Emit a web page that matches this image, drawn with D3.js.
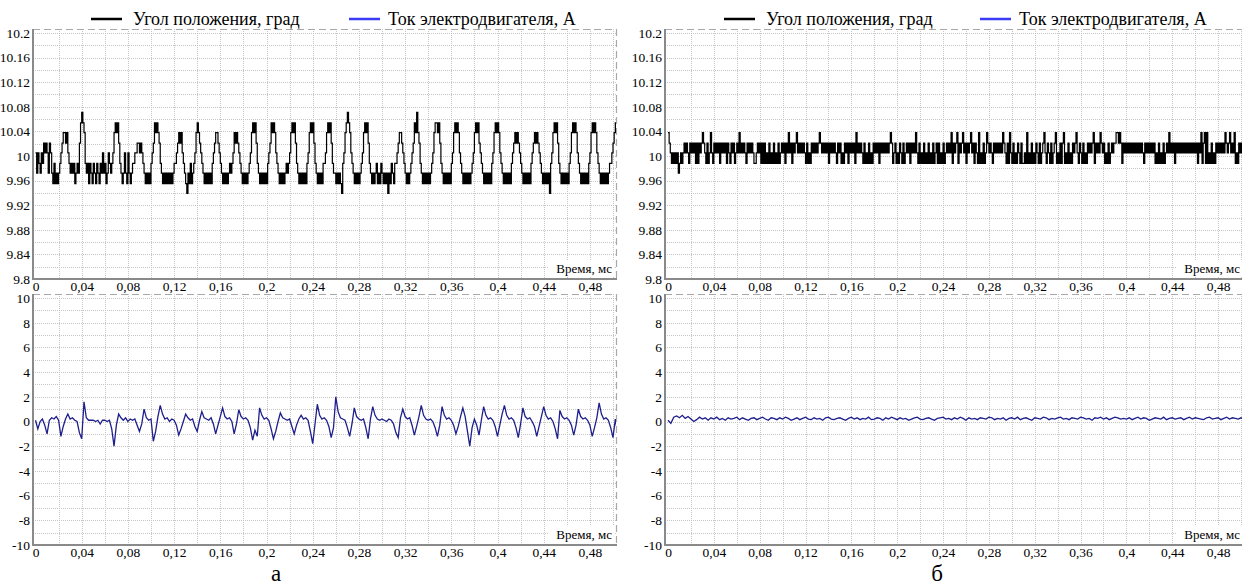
<!DOCTYPE html>
<html>
<head>
<meta charset="utf-8">
<script src="https://cdn.jsdelivr.net/npm/d3@7"></script>
<style>
  body { margin: 0; background: #fff; }
  svg { display: block; }
  svg text { font-family: "Liberation Serif", "Times New Roman", serif; }
</style>
</head>
<body>
<svg id="chart" width="1242" height="587"></svg>
<script>
// ---- data ----
const timeTicks = [0, 0.04, 0.08, 0.12, 0.16, 0.2, 0.24, 0.28, 0.32, 0.36, 0.4, 0.44, 0.48]
const timeTickLabels = ["0", "0,04", "0,08", "0,12", "0,16", "0,2", "0,24", "0,28", "0,32", "0,36", "0,4", "0,44", "0,48"]
const angleTicks = [9.8, 9.84, 9.88, 9.92, 9.96, 10, 10.04, 10.08, 10.12, 10.16, 10.2]
const angleTickLabels = ["9.8", "9.84", "9.88", "9.92", "9.96", "10", "10.04", "10.08", "10.12", "10.16", "10.2"]
const currentTicks = [-10, -8, -6, -4, -2, 0, 2, 4, 6, 8, 10]
const currentTickLabels = ["-10", "-8", "-6", "-4", "-2", "0", "2", "4", "6", "8", "10"]
const legendNames = ["Угол положения, град", "Ток электродвигателя, А"]
const captions = ["а", "б"]

// the angle sensor is quantised: samples below are indices into these levels (deg)
const angleLevels = [9.939, 9.955, 9.972, 9.988, 10.005, 10.021, 10.038, 10.054, 10.071]
const angleStepMs = 0.001

// (а) angle, one sample per 0.001 ms
const angleA = [
  4,2,4,3,2,4,3, 5,4,5,4,2,5,4, 2,1,3,1,2,1,2,3, 4,5,6,6,5,6,4,3,2, 3,2,3,1,2,3,2,
  5,7,8,7,6,3, 2,3,1,3,2,1,3,2,1,3,2,1,3,2,4,2,3,1,2,4,3,2, 3,4,6,7,6,7,5,3,
  2,1,2,4,2,1,4,2,1,2,3,3, 4,4,5,5,4,5,4,3, 2,1,2,1,2,1,3, 4,5,7,6,7,6,5,3,2,
  1,2,1,2,1,2,1,2,1,2,3, 3,4,5,6,5,6,4,3,2, 1,0,2,1,3,1,2,3, 4,6,7,6,5,4,3,2,
  1,2,1,2,1,2,1,3, 4,5,6,6,5,4,3,2, 1,2,1,2,1,2,3,2, 3,4,6,5,6,5,4,3,2,
  1,2,1,2,1,2,3, 4,6,7,6,7,5,3,2, 1,2,1,2,1,2,1,3, 4,5,7,6,7,6,4,3,2,
  1,2,1,2,1,2,3,2, 3,4,6,7,6,7,5,3,2, 1,2,1,2,1,2,1,3, 4,6,7,6,7,5,3,2,
  1,2,1,2,1,3,3, 4,6,7,6,7,5,3,2, 2,1,2,1,2,1,0,3, 4,6,7,8,7,6,4,3,2,
  1,2,1,2,1,2,3, 4,6,7,6,7,5,3,2, 1,2,1,2,3,1,2,1,3,2,1,2,1,2,0,2,1,3,2,1,3,
  3,4,5,6,6,5,4,3, 2,1,2,1,2,3, 4,5,7,6,8,6,5,3,2, 1,2,1,2,1,2,1,2,3,
  4,6,7,7,6,7,5,3,2, 1,2,1,2,1,2,1,3, 4,6,7,6,7,6,4,3,2, 1,2,1,2,1,2,1,2,3,
  4,6,7,6,7,5,4,3,2, 1,2,1,2,1,2,1,3, 4,6,7,6,7,6,4,3,2, 1,2,1,2,1,2,1,3,
  4,5,6,5,6,5,4,3,2, 1,2,1,2,1,2,1,3, 4,5,6,5,6,5,4,3,2, 1,2,1,2,1,2,0,3,
  4,6,7,6,7,5,3,2, 1,2,1,2,1,2,1,3, 4,6,7,6,7,6,4,3,2, 1,2,1,2,1,2,1,3,
  4,6,7,6,7,6,4,3,2, 1,2,1,2,1,2,1,2,3,3, 4,5,6,7,6,7,7
]

// (б) angle, one sample per 0.001 ms
const angleB = [
  6,5,4,3,4,3,4,3,4,2, 3,4,3,4,5,4,5,4,3,5, 4,5,4,5,3,5,3,5,4,5, 6,5,4,3,5,3,4,6,4,3,
  5,4,5,4,5,3,5,4,5,4, 5,3,5,4,3,5,4,5,3,4, 5,4,6,4,5,4,5,4,3,5, 4,5,4,5,4,3,3,4,5,4,
  5,3,5,3,5,3,4,3,5,3, 4,3,5,3,4,3,5,3,4,5, 4,5,3,5,4,6,4,5,3,5, 4,5,6,4,5,4,5,4,5,4,
  3,5,3,4,3,5,4,5,4,5, 4,5,6,5,4,5,4,5,4,5, 3,5,4,5,4,5,4,3,5,4, 5,3,4,3,5,4,5,3,5,4,
  5,4,5,3,6,4,5,4,5,4, 3,5,3,4,3,5,3,4,3,5, 4,5,4,5,3,5,4,5,4,5, 4,5,4,5,6,5,3,4,5,3,
  4,3,5,4,3,5,3,4,5,4, 5,3,5,4,5,4,6,4,3,5, 3,4,3,5,3,4,3,5,3,4, 3,5,3,4,5,3,5,3,4,3,
  5,3,4,5,4,5,4,6,3,5, 4,5,6,3,5,4,5,6,4,5, 3,5,4,5,6,4,5,3,5,4, 3,6,3,4,3,5,3,4,6,5,
  4,5,4,3,5,4,5,4,5,4, 5,4,6,5,4,3,5,3,6,4, 3,5,3,4,3,5,4,3,5,3, 3,4,3,6,3,4,3,5,3,4,
  3,5,4,3,5,3,4,5,6,4, 3,5,4,3,5,3,4,5,6,3, 4,3,5,3,5,6,3,4,3,5, 3,4,3,5,4,5,6,4,3,5,
  4,3,5,3,4,3,5,4,5,4, 5,6,3,5,4,5,4,6,5,4, 5,3,4,3,5,3,4,5,4,5, 5,6,6,5,6,5,3,5,4,5,
  4,5,4,5,4,5,4,5,4,5, 4,5,4,5,4,3,5,4,5,4, 5,4,5,4,5,3,4,3,5,3, 4,3,5,3,4,5,4,6,4,5,
  4,5,3,5,4,5,4,5,4,5, 4,5,4,5,4,5,4,5,4,5, 4,5,3,5,4,6,3,5,6,3, 6,3,4,3,5,3,4,3,5,4,
  5,4,5,4,5,4,6,5,4,5, 6,4,5,4,6,3,4,3,5,4, 5,4,5,4,5,4
]

// (а) motor current, A, one sample per 0.002 ms
const currentStepA = 0.002
const currentA = [
  0.1, -0.6, 0.0, 0.2, -0.3, -1.0, 0.1, 0.3, 0.2, 0.4, 0.1, -1.2, -0.4, 0.2, 0.6, 0.2, 0.3, 0.1, 0.0, -0.9,
  -1.4, 1.6, 0.3, 0.1, 0.1, 0.1, 0.0, 0.1, -0.2, 0.1, 0.1, 0.0, 0.1, -0.6, -2.0, -0.3, 0.6, 0.3, 0.1, 0.3,
  0.0, 0.2, 0.1, 0.2, -0.3, -0.8, -0.2, 1.0, 0.3, 0.1, 0.2, -1.6, -0.8, 0.4, 1.3, 0.6, 0.2, 0.3, 0.0, 0.2,
  0.1, -0.3, -1.1, -0.6, 0.0, 0.6, 0.3, 0.1, 0.2, -0.4, -0.8, 0.1, 0.8, 0.3, 0.2, 0.1, 0.3, -0.2, -1.0, -0.3,
  0.4, 1.1, 0.4, 0.2, 0.3, 0.0, -1.0, -0.2, 0.95, 0.4, 0.2, 0.3, 0.1, -0.5, -1.5, -0.7, -1.2, 1.1, 0.5, 0.2,
  0.3, 0.1, -0.6, -1.4, -0.8, 0.0, 0.7, 0.3, 0.2, 0.1, 0.2, -0.4, -1.0, -0.3, 0.2, 0.5, 0.2, 0.3, 0.1, -0.8,
  -1.8, -0.2, 1.4, 0.5, 0.2, 0.3, 0.1, -0.4, -1.3, -0.5, 2.0, 0.8, 0.3, 0.2, 0.1, -0.5, -1.2, -0.2, 1.1, 0.4,
  0.2, 0.1, 0.2, -0.5, -1.4, 0.2, 1.2, 0.5, 0.2, 0.1, 0.2, 0.1, 0.0, 0.2, 0.1, -0.2, -0.9, -1.3, 0.3, 1.0,
  0.4, 0.2, 0.3, -0.3, -1.1, -0.4, 0.4, 1.3, 0.5, 0.2, 0.1, 0.2, 0.0, -0.5, -1.2, -0.3, 1.2, 0.5, 0.2, 0.3,
  0.1, -0.3, -1.0, -0.4, 0.4, 1.1, 0.4, -0.8, -2.0, -0.5, 0.2, -0.3, -1.1, 0.1, 1.2, 0.5, 0.2, 0.3, 0.1, -0.4,
  -1.2, -0.3, 0.6, 1.3, 0.5, 0.2, 0.3, 0.1, -0.5, -1.3, -0.2, 1.1, 0.4, 0.2, 0.3, 0.0, -0.4, -1.2, -0.4, 0.4,
  1.2, 0.5, 0.2, 0.3, 0.0, -0.6, -1.4, 0.9, 0.4, 0.2, 0.3, 0.1, -0.3, -1.1, -0.3, 1.0, 0.4, 0.2, 0.3, 0.1,
  -0.3, -1.2, -0.5, 0.3, 1.5, 0.6, 0.2, 0.3, 0.1, -0.5, -1.3, 0.2, -0.9
]

// (б) motor current, A, one sample per 0.0025 ms
const currentStepB = 0.0025
const currentB = [
  0.1, -0.15, 0.35, 0.45, 0.3, 0.5, 0.25, 0.4, 0.2, 0.0, 0.15, 0.35, 0.2, 0.3, 0.1, 0.3, 0.2, 0.35, 0.15, 0.25,
  0.1, 0.3, 0.2, 0.25, 0.35, 0.15, 0.3, 0.2, 0.1, 0.25, 0.3, 0.15, 0.25, 0.35, 0.2, 0.1, 0.3, 0.25, 0.15, 0.3,
  0.2, 0.35, 0.25, 0.1, 0.2, 0.3, 0.15, 0.25, 0.35, 0.2, 0.15, 0.3, 0.2, 0.25, 0.1, 0.3, 0.35, 0.2, 0.15, 0.25,
  0.3, 0.2, 0.1, 0.25, 0.35, 0.2, 0.3, 0.15, 0.25, 0.2, 0.35, 0.15, 0.2, 0.3, 0.25, 0.1, 0.3, 0.2, 0.35, 0.25,
  0.15, 0.3, 0.2, 0.25, 0.1, 0.2, 0.3, 0.35, 0.2, 0.15, 0.25, 0.3, 0.2, 0.1, 0.25, 0.3, 0.35, 0.2, 0.25, 0.15,
  0.3, 0.2, 0.35, 0.25, 0.1, 0.3, 0.2, 0.25, 0.15, 0.3, 0.25, 0.2, 0.35, 0.3, 0.15, 0.25, 0.2, 0.3, 0.1, 0.25,
  0.3, 0.2, 0.35, 0.15, 0.25, 0.3, 0.2, 0.1, 0.3, 0.25, 0.2, 0.35, 0.3, 0.15, 0.25, 0.2, 0.3, 0.35, 0.2, 0.25,
  0.15, 0.3, 0.25, 0.2, 0.35, 0.3, 0.2, 0.25, 0.1, 0.3, 0.25, 0.35, 0.2, 0.3, 0.15, 0.25, 0.35, 0.3, 0.2, 0.25,
  0.2, 0.3, 0.15, 0.25, 0.35, 0.2, 0.3, 0.25, 0.1, 0.2, 0.3, 0.25, 0.2, 0.35, 0.15, 0.25, 0.3, 0.2, 0.25, 0.3,
  0.15, 0.25, 0.35, 0.2, 0.3, 0.25, 0.2, 0.15, 0.3, 0.35, 0.2, 0.25, 0.3, 0.15, 0.25, 0.35, 0.2, 0.3, 0.25, 0.2,
  0.3, 0.2, 0.25
]

// ---- drawing ----
const svg = d3.select("#chart")
const serif = "'Liberation Serif', 'Times New Roman', serif"
const gridColor = "#c6c6c6"
const axisColor = "#8a8a8a"
const frameColor = "#a8a8a8"
const blackLine = "#000"
const blueLine = "#1e1e8c"
const legendBlue = "#3b3bf5"

function drawPanel(cfg) {
  const {id, x, y, axisX, frameTop, frameRight, axisY, yTicks, yLabels, yGrid, series, color, curve, labelRight} = cfg
  const g = svg.append("g").attr("class", id)

  svg.append("clipPath").attr("id", "clip-" + id)
    .append("rect")
    .attr("x", axisX).attr("y", frameTop)
    .attr("width", frameRight - axisX).attr("height", axisY - frameTop)

  const grid = g.append("g").attr("class", "grid")
    .attr("stroke", gridColor).attr("stroke-dasharray", "1,1").attr("shape-rendering", "crispEdges")
  grid.selectAll("line.v").data(d3.range(1, 26).map(i => i * 0.02)).join("line")
    .attr("class", "v")
    .attr("x1", d => Math.round(x(d)) + 0.5).attr("x2", d => Math.round(x(d)) + 0.5)
    .attr("y1", frameTop).attr("y2", axisY)
  grid.selectAll("line.h").data(yGrid).join("line")
    .attr("class", "h")
    .attr("x1", axisX).attr("x2", frameRight)
    .attr("y1", d => Math.round(y(d)) + 0.5).attr("y2", d => Math.round(y(d)) + 0.5)

  // dashed top / right frame
  g.append("path")
    .attr("d", `M${axisX},${frameTop + 0.5}H${frameRight + 0.5}V${axisY}`)
    .attr("fill", "none").attr("stroke", frameColor)
    .attr("stroke-dasharray", "7,4").attr("stroke-width", 1.2)

  // "Время, мс" label on a white patch
  const tw = 62
  g.append("rect")
    .attr("x", labelRight - tw - 2).attr("y", axisY - 19)
    .attr("width", tw + 4).attr("height", 17).attr("fill", "#fff")
  g.append("text")
    .attr("x", labelRight).attr("y", axisY - 6)
    .attr("text-anchor", "end")
    .style("font-family", serif).style("font-size", "13px")
    .text("Время, мс")

  // series
  const line = d3.line()
    .x(d => x(d[0])).y(d => y(d[1]))
    .curve(curve)
  g.append("path")
    .datum(series)
    .attr("clip-path", `url(#clip-${id})`)
    .attr("d", line)
    .attr("fill", "none").attr("stroke", color)
    .attr("stroke-width", cfg.width)

  // axes
  const yAxis = g.append("g")
    .attr("transform", `translate(${axisX - 1},0)`)
    .call(d3.axisLeft(y).tickValues(yTicks).tickFormat((d, i) => yLabels[i]).tickSize(0).tickPadding(2))
  yAxis.select(".domain").remove()
  yAxis.selectAll("text").style("font-family", serif).style("font-size", "13.5px").attr("fill", "#000")

  const xAxis = g.append("g")
    .attr("transform", `translate(0,${axisY})`)
    .call(d3.axisBottom(x).tickValues(timeTicks).tickFormat((d, i) => timeTickLabels[i]).tickSize(0).tickPadding(2))
  xAxis.select(".domain").remove()
  xAxis.selectAll("text").style("font-family", serif).style("font-size", "13.5px").attr("fill", "#000")

  // solid left / bottom axis lines
  g.append("path")
    .attr("d", `M${axisX},${frameTop}V${axisY}H${frameRight + 1}`)
    .attr("fill", "none").attr("stroke", axisColor).attr("stroke-width", 2)
}

const angleGrid = d3.range(0, 21).map(i => 9.8 + i * 0.02)
const currentGrid = d3.range(-10, 11)

const columns = [
  {key: "a", x0: 35.5, k: 1155, axisX: 33, frameRight: 616, labelRight: 612, angle: angleA, current: currentA, currentStep: currentStepA, caption: 0, captionX: 276},
  {key: "b", x0: 668, k: 1146, axisX: 665, frameRight: 1248, labelRight: 1240, angle: angleB, current: currentB, currentStep: currentStepB, caption: 1, captionX: 937}
]

columns.forEach(col => {
  const x = d3.scaleLinear()
    .domain([0, (col.frameRight - col.x0) / col.k])
    .range([col.x0, col.frameRight])

  const yAngle = d3.scaleLinear().domain([9.8, 10.2]).range([279, 33])
  drawPanel({
    id: "angle-" + col.key, x, y: yAngle,
    axisX: col.axisX, frameTop: 29, frameRight: col.frameRight, axisY: 279, labelRight: col.labelRight,
    yTicks: angleTicks, yLabels: angleTickLabels, yGrid: angleGrid,
    series: col.angle.map((lv, i) => [i * angleStepMs, angleLevels[lv]]),
    color: blackLine, width: 1.2, curve: d3.curveStepAfter
  })

  const yCurrent = d3.scaleLinear().domain([-10, 10]).range([545, 298])
  drawPanel({
    id: "current-" + col.key, x, y: yCurrent,
    axisX: col.axisX, frameTop: 294, frameRight: col.frameRight, axisY: 545, labelRight: col.labelRight,
    yTicks: currentTicks, yLabels: currentTickLabels, yGrid: currentGrid,
    series: col.current.map((v, i) => [i * col.currentStep, v]),
    color: blueLine, width: 1.3, curve: d3.curveLinear
  })

  svg.append("text")
    .attr("x", col.captionX).attr("y", 581)
    .attr("text-anchor", "middle")
    .style("font-family", serif).style("font-size", "23px")
    .text(captions[col.caption])
})

// legends
const legendSpots = [
  [{x: 91, color: blackLine}, {x: 349, color: legendBlue}],
  [{x: 724, color: blackLine}, {x: 980, color: legendBlue}]
]
legendSpots.forEach(spots => {
  spots.forEach((s, i) => {
    const lg = svg.append("g").attr("transform", `translate(${s.x},19)`)
    lg.append("line").attr("x1", 0).attr("x2", 31).attr("stroke", s.color).attr("stroke-width", 2.5)
    lg.append("text").attr("x", i === 0 ? 42 : 39).attr("y", 6)
      .style("font-family", serif).style("font-size", "18px")
      .text(legendNames[i])
  })
})
</script>
</body>
</html>
